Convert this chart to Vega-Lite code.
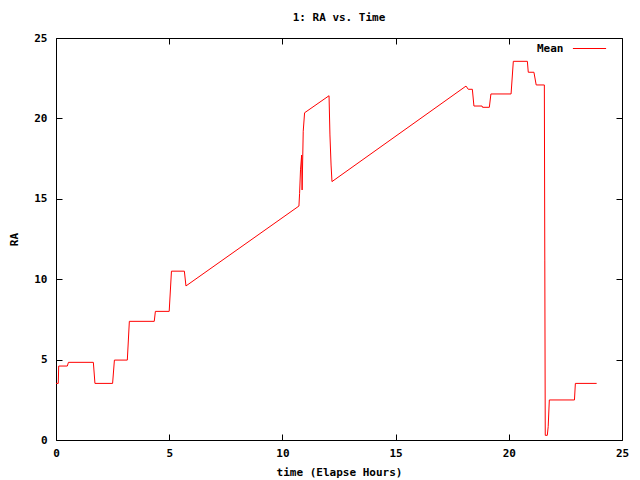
{
  "$schema": "https://vega.github.io/schema/vega-lite/v6.json",
  "width": 566,
  "height": 402,
  "autosize": "none",
  "padding": {"left": 56, "top": 38, "right": 18, "bottom": 40},
  "background": "white",
  "config": {
    "view": {"stroke": "black", "strokeWidth": 1},
    "font": "DejaVu Sans Mono",
    "axis": {
      "grid": false,
      "domain": false,
      "tickColor": "black",
      "tickSize": -6,
      "labelColor": "black",
      "labelFont": "DejaVu Sans Mono",
      "labelFontWeight": "bold",
      "labelFontSize": 11,
      "titleFont": "DejaVu Sans Mono",
      "titleFontWeight": "bold",
      "titleFontSize": 11,
      "titleColor": "black"
    }
  },
  "title": {
    "text": "1: RA vs. Time",
    "font": "DejaVu Sans Mono",
    "fontSize": 11,
    "fontWeight": "bold",
    "color": "black",
    "anchor": "middle",
    "offset": 8
  },
  "data": {
    "values": [
      {"t": 0.0, "ra": 3.52},
      {"t": 0.1, "ra": 3.52},
      {"t": 0.12, "ra": 4.6},
      {"t": 0.5, "ra": 4.6},
      {"t": 0.55, "ra": 4.83},
      {"t": 1.65, "ra": 4.83},
      {"t": 1.72, "ra": 3.52},
      {"t": 2.5, "ra": 3.52},
      {"t": 2.58, "ra": 4.97},
      {"t": 3.15, "ra": 4.97},
      {"t": 3.24, "ra": 7.38},
      {"t": 4.34, "ra": 7.38},
      {"t": 4.39, "ra": 8.0},
      {"t": 5.0, "ra": 8.0},
      {"t": 5.1, "ra": 10.5},
      {"t": 5.67, "ra": 10.5},
      {"t": 5.74, "ra": 9.58},
      {"t": 10.73, "ra": 14.55},
      {"t": 10.76, "ra": 15.34},
      {"t": 10.8, "ra": 16.8},
      {"t": 10.85, "ra": 17.72},
      {"t": 10.87, "ra": 15.55},
      {"t": 10.92, "ra": 19.2},
      {"t": 10.98, "ra": 20.35},
      {"t": 12.06, "ra": 21.41},
      {"t": 12.1, "ra": 18.97},
      {"t": 12.15, "ra": 17.1},
      {"t": 12.19, "ra": 16.07},
      {"t": 18.11, "ra": 22.01},
      {"t": 18.21, "ra": 21.81},
      {"t": 18.39, "ra": 21.81},
      {"t": 18.46, "ra": 20.77},
      {"t": 18.82, "ra": 20.77},
      {"t": 18.84, "ra": 20.69},
      {"t": 19.14, "ra": 20.69},
      {"t": 19.21, "ra": 21.52},
      {"t": 20.1, "ra": 21.52},
      {"t": 20.2, "ra": 23.55},
      {"t": 20.82, "ra": 23.55},
      {"t": 20.86, "ra": 22.87},
      {"t": 21.11, "ra": 22.87},
      {"t": 21.21, "ra": 22.08},
      {"t": 21.57, "ra": 22.08},
      {"t": 21.59, "ra": 11.19},
      {"t": 21.61, "ra": 0.29},
      {"t": 21.7, "ra": 0.29},
      {"t": 21.74, "ra": 0.83},
      {"t": 21.79, "ra": 2.49},
      {"t": 22.9, "ra": 2.49},
      {"t": 22.94, "ra": 3.52},
      {"t": 23.88, "ra": 3.52}
    ]
  },
  "layer": [
    {
      "mark": {"type": "line", "strokeWidth": 1, "interpolate": "linear"},
      "encoding": {
        "x": {
          "field": "t", "type": "quantitative",
          "scale": {"domain": [0, 25], "nice": false, "zero": false},
          "axis": {"orient": "bottom", "values": [0, 5, 10, 15, 20, 25], "title": "time (Elapse Hours)", "labelPadding": 13, "titlePadding": 8, "labelFlush": false}
        },
        "y": {
          "field": "ra", "type": "quantitative",
          "scale": {"domain": [0, 25], "nice": false, "zero": false},
          "axis": {"orient": "left", "values": [0, 5, 10, 15, 20, 25], "title": "RA", "labelPadding": 15, "titleX": -42, "titleY": 201, "titleAngle": -90, "titleAlign": "center", "titleBaseline": "middle", "labelFlush": false}
        },
        "color": {
          "datum": "Mean",
          "scale": {"range": ["#ff0000"]},
          "legend": {
            "title": null,
            "orient": "none",
            "legendX": 448,
            "legendY": -7,
            "symbolType": "stroke",
            "symbolSize": 1100,
            "symbolStrokeWidth": 1.2,
            "symbolStrokeColor": "#ff0000",
            "symbolOpacity": 1,
            "symbolOffset": 68,
            "labelOffset": -70,
            "labelFont": "DejaVu Sans Mono",
            "labelFontWeight": "bold",
            "labelFontSize": 11,
            "labelColor": "black"
          }
        }
      }
    },
    {
      "mark": {"type": "line", "strokeWidth": 1, "opacity": 0},
      "encoding": {
        "x": {
          "field": "t", "type": "quantitative",
          "scale": {"domain": [0, 25], "nice": false, "zero": false},
          "axis": {"orient": "top", "values": [0, 5, 10, 15, 20, 25], "labels": false, "title": null}
        },
        "y": {
          "field": "ra", "type": "quantitative",
          "scale": {"domain": [0, 25], "nice": false, "zero": false},
          "axis": {"orient": "right", "values": [0, 5, 10, 15, 20, 25], "labels": false, "title": null}
        }
      }
    }
  ],
  "resolve": {"axis": {"x": "independent", "y": "independent"}}
}
